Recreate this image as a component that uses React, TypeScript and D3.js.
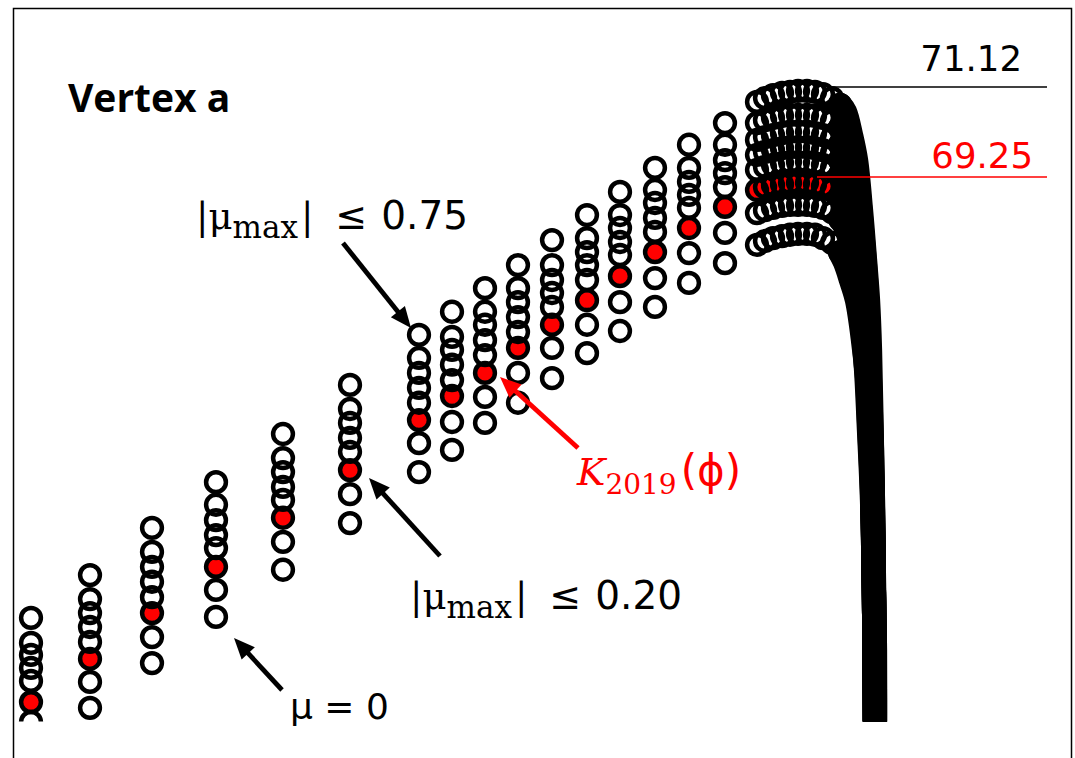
import React from "react";
import * as d3 from "d3";

// ---------- data ----------
// sampling parameter (phi) of the discrete columns and of the dense arc samples
const columnPhi = [1.8, 7.7, 13.9, 20.3, 27.0, 33.7, 40.6, 43.9, 47.2, 50.5, 53.9, 57.4, 60.7, 64.2, 67.6, 71.2];
const arcPhi = [74.4, 75.2, 76.0, 76.9, 77.7, 78.5, 79.4, 80.2, 81.0, 81.9, 82.7];

// vertex value for every bound row, one value per column
const ring1Cols = [60.09, 60.98, 61.96, 62.91, 63.91, 64.93, 65.97, 66.45, 66.94, 67.42, 67.94, 68.46, 68.94, 69.44, 69.92, 70.37];
const ring2Cols = [59.57, 60.48, 61.46, 62.44, 63.41, 64.43, 65.49, 65.93, 66.45, 66.94, 67.42, 67.98, 68.46, 68.98, 69.44, 69.92];
const ring3Cols = [59.32, 60.19, 61.15, 62.12, 63.12, 64.14, 65.18, 65.66, 66.18, 66.65, 67.11, 67.69, 68.19, 68.71, 69.15, 69.60];
const ring4Cols = [59.05, 59.90, 60.84, 61.81, 62.81, 63.83, 64.87, 65.35, 65.86, 66.34, 66.84, 67.42, 67.90, 68.40, 68.88, 69.33];
const ring5Cols = [58.78, 59.59, 60.52, 61.54, 62.54, 63.54, 64.56, 65.03, 65.55, 66.03, 66.55, 67.11, 67.63, 68.11, 68.61, 69.04];
const k2019Cols = [58.34, 59.24, 60.19, 61.15, 62.17, 63.16, 64.20, 64.70, 65.18, 65.70, 66.18, 66.69, 67.19, 67.69, 68.19, 68.63];
const ring7Cols = [57.93, 58.76, 59.69, 60.67, 61.67, 62.66, 63.72, 64.16, 64.68, 65.18, 65.70, 66.18, 66.65, 67.15, 67.67, 68.09];
const ring8Cols = [57.39, 58.22, 59.15, 60.11, 61.09, 62.06, 63.12, 63.58, 64.14, 64.56, 65.07, 65.59, 66.05, 66.55, 67.05, 67.46];

// dense arc samples (one value per arcPhi)
const ring1Arc = [70.81, 70.89, 70.95, 71.00, 71.02, 71.04, 71.04, 71.02, 70.97, 70.89, 70.75];
const ring2Arc = [70.37, 70.43, 70.48, 70.52, 70.54, 70.54, 70.54, 70.52, 70.48, 70.41, 70.27];
const ring3Arc = [70.02, 70.08, 70.12, 70.16, 70.19, 70.19, 70.19, 70.16, 70.12, 70.06, 69.92];
const ring4Arc = [69.71, 69.77, 69.81, 69.85, 69.87, 69.87, 69.87, 69.85, 69.81, 69.75, 69.60];
const ring5Arc = [69.40, 69.46, 69.50, 69.54, 69.56, 69.56, 69.56, 69.54, 69.50, 69.44, 69.29];
const k2019Arc = [68.98, 69.04, 69.08, 69.10, 69.13, 69.13, 69.13, 69.10, 69.06, 68.98, 68.83];
const ring7Arc = [68.50, 68.56, 68.61, 68.65, 68.67, 68.67, 68.67, 68.65, 68.61, 68.52, 68.38];
const ring8Arc = [67.84, 67.92, 67.98, 68.02, 68.05, 68.07, 68.07, 68.05, 67.98, 67.88, 67.69];

// descending branch: densely packed samples, read as [phi, value] knots
const ring1Tail = [[83.2, 70.60], [83.8, 70.12], [84.3, 69.60], [84.8, 68.56], [85.2, 67.53], [85.5, 66.69], [85.7, 65.66], [85.9, 63.58], [86.05, 61.50], [86.2, 59.42], [86.2, 57.55]];
const ring2Tail = [[83.2, 70.12], [83.8, 69.71], [84.4, 69.19], [84.9, 68.15], [85.3, 67.11], [85.6, 65.66], [85.9, 63.58], [86.1, 60.46], [86.2, 57.55]];
const ring3Tail = [[83.2, 69.77], [83.8, 69.35], [84.4, 68.83], [84.9, 67.80], [85.3, 66.76], [85.6, 65.24], [85.9, 63.37], [86.1, 60.46], [86.2, 57.55]];
const ring4Tail = [[83.2, 69.46], [83.8, 69.04], [84.4, 68.52], [84.9, 67.48], [85.3, 66.45], [85.6, 64.93], [85.9, 63.16], [86.1, 60.46], [86.2, 57.55]];
const ring5Tail = [[83.2, 69.15], [83.8, 68.73], [84.4, 68.21], [84.9, 67.17], [85.3, 66.13], [85.6, 64.62], [85.9, 62.95], [86.1, 60.46], [86.2, 57.55]];
const k2019Tail = [[83.2, 68.69], [83.8, 68.27], [84.4, 67.75], [84.9, 66.72], [85.3, 65.68], [85.6, 64.20], [85.9, 62.75], [86.1, 60.46], [86.2, 57.55]];
const ring7Tail = [[83.2, 68.23], [83.8, 67.86], [84.4, 67.34], [84.9, 66.30], [85.3, 65.26], [85.6, 63.99], [85.9, 62.54], [86.1, 60.46], [86.2, 57.55]];
const ring8Tail = [[83.2, 67.48], [83.8, 67.11], [84.4, 66.69], [85.0, 65.86], [85.6, 64.62], [85.8, 63.58], [86.0, 62.54], [86.1, 60.46], [86.2, 58.38], [86.2, 57.55]];

// reference lines: value, phi where the line starts, label
const refValues = [71.12, 69.25];
const refStartPhi = [81.7, 80.4];
const refEndPhi = 103.4;
const refLabels = ["71.12", "69.25"];
const refColors = ["#000000", "#ff0000"];

const rows = [
  { cols: ring1Cols, arc: ring1Arc, tail: ring1Tail, red: false },
  { cols: ring2Cols, arc: ring2Arc, tail: ring2Tail, red: false },
  { cols: ring3Cols, arc: ring3Arc, tail: ring3Tail, red: false },
  { cols: ring4Cols, arc: ring4Arc, tail: ring4Tail, red: false },
  { cols: ring5Cols, arc: ring5Arc, tail: ring5Tail, red: false },
  { cols: k2019Cols, arc: k2019Arc, tail: k2019Tail, red: true },
  { cols: ring7Cols, arc: ring7Arc, tail: ring7Tail, red: false },
  { cols: ring8Cols, arc: ring8Arc, tail: ring8Tail, red: false },
];

const W = 1075;
const H = 758;
const RED = "#ff0000";
const SANS = "'DejaVu Sans', sans-serif";
const TITLE = "'Open Sans', sans-serif";
const SERIF = "'DejaVu Serif', 'Liberation Serif', serif";

function Arrow({ x1, y1, x2, y2, color }: { x1: number; y1: number; x2: number; y2: number; color: string }) {
  const ang = Math.atan2(y2 - y1, x2 - x1);
  const hl = 21;
  const hw = 9;
  const bx = x2 - hl * Math.cos(ang);
  const by = y2 - hl * Math.sin(ang);
  const px = -Math.sin(ang);
  const py = Math.cos(ang);
  const pts = [
    [x2, y2],
    [bx + px * hw, by + py * hw],
    [bx - px * hw, by - py * hw],
  ];
  return (
    <g>
      <line x1={x1} y1={y1} x2={bx + 2 * Math.cos(ang)} y2={by + 2 * Math.sin(ang)} stroke={color} strokeWidth={4.8} />
      <polygon points={pts.map((p) => p.join(",")).join(" ")} fill={color} />
    </g>
  );
}

function MuMax({ x0, y0, value }: { x0: number; y0: number; value: string }) {
  return (
    <text x={x0} y={y0} fill="#000" fontFamily={SERIF} fontSize={37}>
      |μ
      <tspan dy={9} fontSize={31}>max</tspan>
      <tspan dy={-9} dx={3}>|</tspan>
      <tspan dx={22} fontFamily={SANS} fontSize={38}>≤</tspan>
      <tspan dx={14} fontFamily={SANS} fontSize={39}>{value}</tspan>
    </text>
  );
}

export default function App() {
  const x = d3.scaleLinear().domain([0, 106]).range([13, 1073]);
  const y = d3.scaleLinear().domain([57.968, 72.72]).range([720, 10]);
  const R = 9.9;
  const SW = 4.5;

  const pointsOf = (r: (typeof rows)[number]) => [
    ...columnPhi.map((p, i) => [p, r.cols[i]]),
    ...arcPhi.map((p, i) => [p, r.arc[i]]),
  ];

  const tailLine = d3
    .line<number[]>()
    .x((d) => x(d[0]))
    .y((d) => y(d[1]))
    .curve(d3.curveCatmullRom);

  return (
    <svg width={W} height={H} style={{ position: "absolute", left: 0, top: 0, background: "#fff" }}>
      <defs>
        <clipPath id="plot">
          <rect x={0} y={0} width={W} height={721.5} />
        </clipPath>
      </defs>
      <rect x={0} y={0} width={W} height={H} fill="#fff" />
      <rect x={13.5} y={8.5} width={1058} height={780} fill="none" stroke="#000" strokeWidth={1.5} />

      <g clipPath="url(#plot)">
        {/* red K2019 disks */}
        {rows
          .filter((r) => r.red)
          .map((r, ri) =>
            pointsOf(r).map((d, i) => <circle key={`r${ri}-${i}`} cx={x(d[0])} cy={y(d[1])} r={8.3} fill={RED} />)
          )}
        {/* rings */}
        {rows.map((r, ri) =>
          pointsOf(r).map((d, i) => (
            <circle key={`c${ri}-${i}`} cx={x(d[0])} cy={y(d[1])} r={R} fill="none" stroke="#000" strokeWidth={SW} />
          ))
        )}
        {/* dense descending branch */}
        {rows.map((r, ri) => (
          <path
            key={`t${ri}`}
            d={tailLine([[arcPhi[arcPhi.length - 1], r.arc[r.arc.length - 1]], ...r.tail]) || ""}
            fill="none"
            stroke="#000"
            strokeWidth={2 * R + SW}
            strokeLinecap="round"
            strokeLinejoin="round"
          />
        ))}
      </g>

      {/* reference lines and labels */}
      {refValues.map((v, i) => (
        <g key={`ref${i}`}>
          <line x1={x(refStartPhi[i])} x2={x(refEndPhi)} y1={y(v)} y2={y(v)} stroke={refColors[i]} strokeWidth={1.6} />
          <text
            x={i === 0 ? 1022 : 1033}
            y={y(v) - (i === 0 ? 16 : 9)}
            textAnchor="end"
            fontFamily={SANS}
            fontSize={35.5}
            fill={refColors[i]}
          >
            {refLabels[i]}
          </text>
        </g>
      ))}

      <text x={68} y={112} fontFamily={TITLE} fontWeight={700} fontSize={39} fill="#000">
        Vertex a
      </text>

      {/* annotations */}
      <MuMax x0={196} y0={229} value="0.75" />
      <Arrow x1={343} y1={243} x2={411} y2={328} color="#000" />

      <MuMax x0={410} y0={609} value="0.20" />
      <Arrow x1={440} y1={556} x2={369} y2={478} color="#000" />

      <text x={577} y={485} fill={RED} fontFamily={SERIF} fontSize={38}>
        <tspan fontStyle="italic">K</tspan>
        <tspan dy={9} fontSize={28}>2019</tspan>
        <tspan dy={-9} dx={4} fontFamily={SANS} fontSize={42}>(ϕ)</tspan>
      </text>
      <Arrow x1={578} y1={448} x2={500} y2={377} color={RED} />

      <text x={290} y={719} fontSize={36} fill="#000" fontFamily={SANS}>
        μ = 0
      </text>
      <Arrow x1={282} y1={690} x2={234} y2={638} color="#000" />
    </svg>
  );
}
